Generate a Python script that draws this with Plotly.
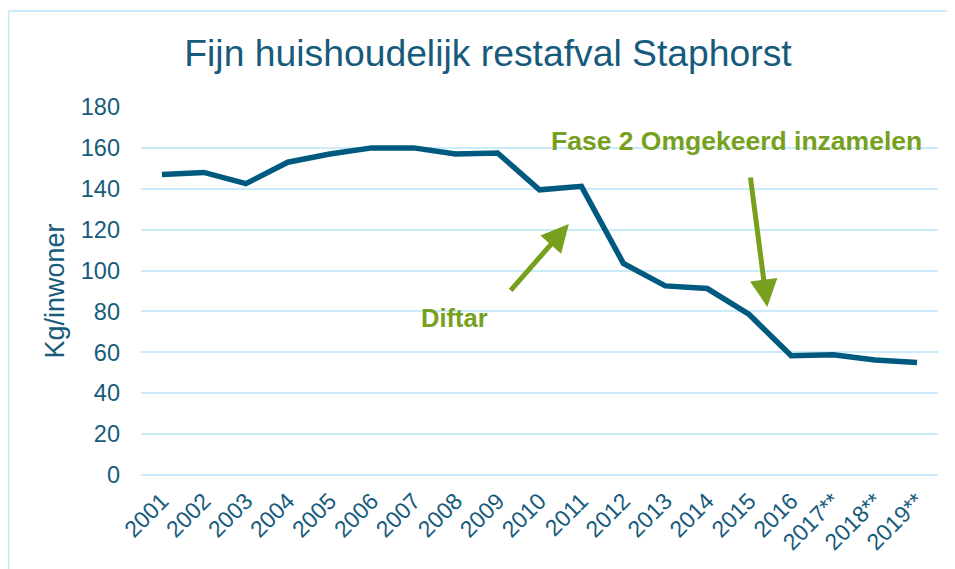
import plotly.graph_objects as go

years = ["2001", "2002", "2003", "2004", "2005", "2006", "2007", "2008", "2009", "2010",
         "2011", "2012", "2013", "2014", "2015", "2016", "2017**", "2018**", "2019**"]
kg_per_inwoner = [147, 148, 142.5, 153, 157, 160, 160, 157, 157.5, 139.5,
                  141.2, 103.5, 92.5, 91.2, 78.5, 58.3, 58.8, 56.2, 55]
y_ticks = [0, 20, 40, 60, 80, 100, 120, 140, 160, 180]

title_text = "Fijn huishoudelijk restafval Staphorst"
y_title = "Kg/inwoner"
note_diftar = "Diftar"
note_fase = "Fase 2 Omgekeerd inzamelen"

LINE = "#005A80"
TEXT = "#175B7C"
GREEN = "#76A01E"
GRID = "#C9EBFA"
FONT = "Liberation Sans, Arial, sans-serif"

# the page body adds an 8px offset; the figure is sized to fill the rest
OFF = 8
W, H = 955 - OFF, 569 - OFF
L, T = 141 - OFF, 107 - OFF
R = W - (938 - OFF)
B = H - (475 - OFF)
PW, PH = W - L - R, H - T - B

fig = go.Figure()
fig.add_trace(go.Scatter(
    x=years, y=kg_per_inwoner, mode="lines",
    line=dict(color=LINE, width=5.5, shape="linear"),
    showlegend=False, hoverinfo="x+y"))

fig.update_layout(
    width=W, height=H,
    margin=dict(l=L, r=R, t=T, b=B),
    paper_bgcolor="white", plot_bgcolor="white",
    font=dict(family=FONT, color=TEXT),
    title=dict(text=title_text, x=(488 - OFF) / W, xanchor="center",
               y=1 - (53 - OFF) / H, yanchor="middle",
               font=dict(size=37.3, color=TEXT, family=FONT)),
    xaxis=dict(type="category", showgrid=False, zeroline=False, showline=False,
               ticks="", tickangle=-45, tickfont=dict(size=23, color=TEXT),
               ticklabelstandoff=7, range=[-0.5, len(years) - 0.5]),
    yaxis=dict(range=[0, 180], tickvals=y_ticks, showgrid=True, gridcolor=GRID,
               gridwidth=2, zeroline=True, zerolinecolor=GRID, zerolinewidth=2,
               showline=False, ticks="", tickfont=dict(size=23.5, color=TEXT),
               ticklabelstandoff=20,
               title=dict(text=y_title, font=dict(size=27, color=TEXT), standoff=8)),
)

# outer frame: top and left edges only (the source image is cut off right and bottom)
FRAME_Y = (PH + T - (11 - OFF)) / PH
FRAME_X = (0.5 - L) / PW
fig.add_shape(type="line", xref="paper", yref="paper",
              x0=FRAME_X, x1=(W - L) / PW, y0=FRAME_Y, y1=FRAME_Y,
              line=dict(color=GRID, width=2), layer="below")
fig.add_shape(type="line", xref="paper", yref="paper",
              x0=FRAME_X, x1=FRAME_X, y0=-B / PH, y1=FRAME_Y,
              line=dict(color=GRID, width=2), layer="below")

# annotations
fig.add_annotation(x=6.98, y=76.8, xref="x", yref="y", text="<b>" + note_diftar + "</b>",
                   showarrow=False, font=dict(size=25.5, color=GREEN, family=FONT))
fig.add_annotation(x=13.69, y=163.5, xref="x", yref="y", text="<b>" + note_fase + "</b>",
                   showarrow=False, font=dict(size=26.5, color=GREEN, family=FONT))
fig.add_annotation(x=9.70, y=122.8, xref="x", yref="y", text="", showarrow=True,
                   ax=-59.5, ay=68, arrowcolor=GREEN, arrowwidth=5, arrowhead=2,
                   arrowsize=1.1)
fig.add_annotation(x=14.43, y=82.2, xref="x", yref="y", text="", showarrow=True,
                   ax=-17, ay=-131, arrowcolor=GREEN, arrowwidth=5, arrowhead=2,
                   arrowsize=1.1)

fig.write_html("out.html")
